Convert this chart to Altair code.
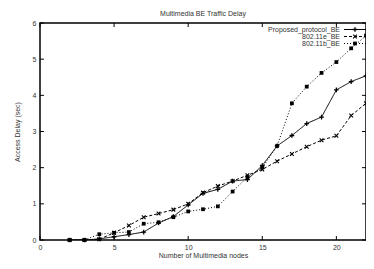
import altair as alt
import pandas as pd

# ---- data ----
nodes = list(range(2, 23))
proposed = [0.0, 0.0, 0.03, 0.09, 0.15, 0.22, 0.47, 0.65, 0.97, 1.29, 1.40,
            1.63, 1.67, 2.06, 2.60, 2.89, 3.22, 3.40, 4.15, 4.38, 4.54]
e_vals = [0.0, 0.0, 0.02, 0.20, 0.40, 0.63, 0.73, 0.84, 1.00, 1.31, 1.49,
          1.63, 1.79, 1.95, 2.18, 2.38, 2.58, 2.76, 2.88, 3.44, 3.78]
b_vals = [0.0, 0.0, 0.16, 0.20, 0.22, 0.45, 0.49, 0.63, 0.79, 0.85, 0.93,
          1.34, 1.74, 2.00, 2.60, 3.78, 4.24, 4.62, 4.92, 5.30, 5.65]
series_names = ["Proposed_protocol_BE", "802.11e_BE", "802.11b_BE"]
x_ticks = [0, 5, 10, 15, 20]
y_ticks = [0, 1, 2, 3, 4, 5, 6]

W, H = 326, 217
FONT = "Liberation Sans"

PLUS = "M-1,0L1,0M0,-1L0,1"
XSHAPE = "M-1,-1L1,1M-1,1L1,-1"
styles = [
    dict(dash=[1, 0], shape=PLUS, filled=False, size=22, sw=1.3),
    dict(dash=[3, 2], shape=XSHAPE, filled=False, size=14, sw=1.1),
    dict(dash=[1, 2], shape="square", filled=True, size=14, sw=1.0),
]
values = [proposed, e_vals, b_vals]

xs = alt.Scale(domain=[0, 22], nice=False, zero=False)
ys = alt.Scale(domain=[0, 6], nice=False)

axis_common = dict(labelFont=FONT, labelFontSize=7, labelColor="#333333",
                   titleFont=FONT, titleFontSize=7, titleFontWeight="normal",
                   titleColor="#333333", domain=False, ticks=False, grid=False,
                   labelOverlap=False, labelFlush=False)
XAX = alt.Axis(values=x_ticks, title="Number of Multimedia nodes",
               labelPadding=3, titlePadding=1, **axis_common)
YAX = alt.Axis(values=y_ticks, title="Access Delay (sec)",
               labelPadding=4, titlePadding=12, **axis_common)

layers = []
for name, vals, st in zip(series_names, values, styles):
    df = pd.DataFrame({"nodes": nodes, "delay": vals})
    base = alt.Chart(df).encode(
        x=alt.X("nodes:Q", scale=xs, axis=XAX),
        y=alt.Y("delay:Q", scale=ys, axis=YAX),
    )
    layers.append(base.mark_line(color="black", strokeWidth=1.0,
                                 strokeDash=st["dash"], clip=True))
    layers.append(base.mark_point(shape=st["shape"], filled=st["filled"],
                                  color="black", size=st["size"],
                                  strokeWidth=st["sw"], opacity=1))

# inward tick marks (gnuplot style)
xt = pd.DataFrame({"t": x_ticks})
yt = pd.DataFrame({"t": y_ticks})
tick_bottom = alt.Chart(xt).mark_rule(color="black", strokeWidth=1).encode(
    x=alt.X("t:Q", scale=xs, axis=XAX), y=alt.value(H), y2=alt.value(H - 4))
tick_top = alt.Chart(xt).mark_rule(color="black", strokeWidth=1).encode(
    x=alt.X("t:Q", scale=xs, axis=XAX), y=alt.value(0), y2=alt.value(4))
tick_left = alt.Chart(yt).mark_rule(color="black", strokeWidth=1).encode(
    y=alt.Y("t:Q", scale=ys, axis=YAX), x=alt.value(0), x2=alt.value(4))
tick_right = alt.Chart(yt).mark_rule(color="black", strokeWidth=1).encode(
    y=alt.Y("t:Q", scale=ys, axis=YAX), x=alt.value(W), x2=alt.value(W - 4))

# manual legend (gnuplot style)
leg_layers = []
row_y = [6.5, 13.5, 20.5]
for name, st, yy in zip(series_names, styles, row_y):
    ldf = pd.DataFrame({"label": [name]})
    leg_layers.append(alt.Chart(ldf).mark_text(
        align="right", baseline="middle", font=FONT, fontSize=7,
        color="#333333").encode(text="label:N", x=alt.value(300), y=alt.value(yy)))
    leg_layers.append(alt.Chart(ldf).mark_rule(
        color="black", strokeWidth=1.0, strokeDash=st["dash"]).encode(
        x=alt.value(304), x2=alt.value(326), y=alt.value(yy)))
    leg_layers.append(alt.Chart(ldf).mark_point(
        shape=st["shape"], filled=st["filled"], color="black", size=st["size"],
        strokeWidth=st["sw"], opacity=1).encode(x=alt.value(315), y=alt.value(yy)))

chart = alt.layer(
    *layers, tick_bottom, tick_top, tick_left, tick_right, *leg_layers
).properties(
    width=W, height=H,
    title=alt.TitleParams("Multimedia BE Traffic Delay", font=FONT, fontSize=7,
                          fontWeight="normal", color="#333333", offset=2,
                          anchor="middle"),
    padding={"left": 32, "top": 15, "right": 0, "bottom": 21},
    autosize=alt.AutoSizeParams(type="none"),
).configure_view(stroke="black", strokeWidth=1.5)

chart.save("out.html", embed_options={"renderer": "svg", "actions": False})
